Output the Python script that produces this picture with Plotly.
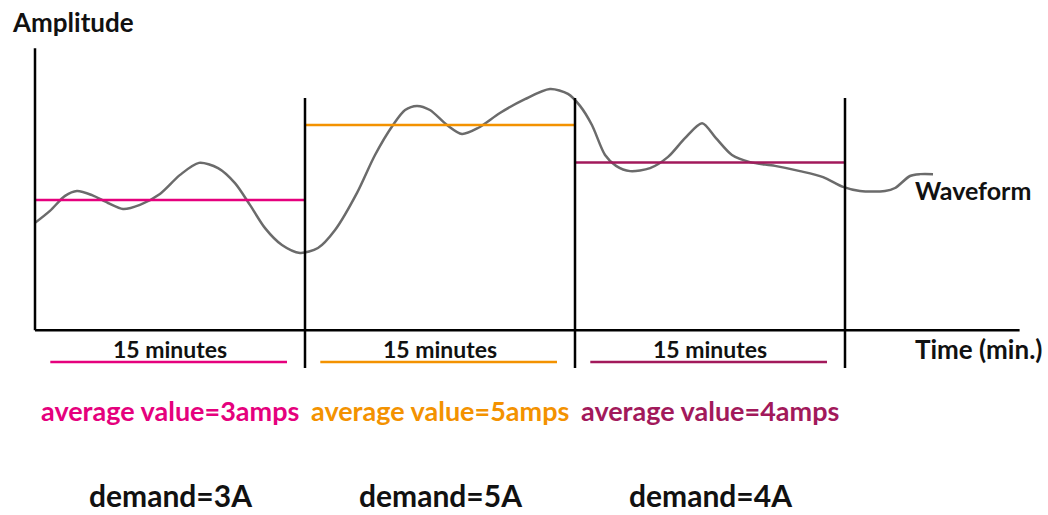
import plotly.graph_objects as go

# waveform: time (minutes) vs amplitude (amps)
wave_t = [0, 0.83, 1.67, 2.33, 3.17, 4.06, 4.89, 5.83, 6.94, 8.06, 9.11, 10.17, 11.11,
          11.94, 12.78, 13.72, 14.72, 15.72, 16.67, 17.89, 18.89, 19.89, 20.56, 21.22,
          21.94, 22.89, 23.72, 24.61, 25.83, 27.22, 28.61, 29.61, 30.28, 30.94, 31.67,
          32.28, 33.06, 34.17, 35.17, 36.11, 37.06, 37.83, 38.72, 39.72, 41.11, 42.50,
          43.78, 44.89, 45.83, 47.22, 47.78, 48.61, 49.17, 49.89]
wave_a = [2.39, 2.71, 3.11, 3.24, 3.13, 2.92, 2.76, 2.87, 3.16, 3.67, 3.99, 3.85, 3.45,
          2.87, 2.25, 1.80, 1.59, 1.72, 2.20, 3.19, 4.20, 5.00, 5.40, 5.51,
          5.40, 5.00, 4.76, 4.92, 5.32, 5.69, 5.96, 5.83, 5.51, 5.00, 4.20,
          3.91, 3.77, 3.85, 4.15, 4.65, 5.05, 4.65, 4.20, 4.01, 3.91, 3.77,
          3.61, 3.35, 3.24, 3.24, 3.32, 3.64, 3.69, 3.69]

boundaries = [0, 15, 30, 45]
averages = [3, 5, 4]
interval_labels = ["15 minutes", "15 minutes", "15 minutes"]
avg_labels = ["average value=3amps", "average value=5amps", "average value=4amps"]
demand_labels = ["demand=3A", "demand=5A", "demand=4A"]
colors = ["#E5007D", "#F39200", "#A2195B"]

W, H = 1048, 515
# pixel mapping: px = 35 + 18*t ; py = 312.5 - 37.5*A
x_range = [-35 / 18, (W - 35) / 18]
y_range = [(312.5 - H) / 37.5, 312.5 / 37.5]

FONT = "Lato"
INK = "#111111"

fig = go.Figure()

# waveform
fig.add_trace(go.Scatter(
    x=wave_t, y=wave_a, mode="lines",
    line=dict(color="#6b6b6b", width=2.5, shape="spline", smoothing=0.8),
    hoverinfo="skip", showlegend=False,
))

# average levels per interval
for i, avg in enumerate(averages):
    fig.add_trace(go.Scatter(
        x=[boundaries[i], boundaries[i + 1]], y=[avg, avg], mode="lines",
        line=dict(color=colors[i], width=2.5),
        hoverinfo="skip", showlegend=False,
    ))

shapes = []
axis_line = dict(color="black", width=2.5)
# axes
shapes.append(dict(type="line", xref="x", yref="y", x0=0, x1=0, y0=-0.47, y1=7.05, line=axis_line))
shapes.append(dict(type="line", xref="x", yref="y", x0=0, x1=54.7, y0=-0.47, y1=-0.47, line=axis_line))
# interval separators
for b in boundaries[1:]:
    shapes.append(dict(type="line", xref="x", yref="y", x0=b, x1=b, y0=-1.48, y1=5.72, line=axis_line))
# coloured underlines below interval labels
for i in range(3):
    shapes.append(dict(type="line", xref="x", yref="y",
                       x0=boundaries[i] + 0.85, x1=boundaries[i + 1] - 1.0,
                       y0=-1.32, y1=-1.32, line=dict(color=colors[i], width=2.5)))

annotations = []
mid = [(boundaries[i] + boundaries[i + 1]) / 2 for i in range(3)]
for i in range(3):
    annotations.append(dict(x=mid[i], y=-0.97, xref="x", yref="y", text=interval_labels[i],
                            yanchor="middle", showarrow=False,
                            font=dict(family=FONT, size=23, color=INK, weight="bold")))
    annotations.append(dict(x=mid[i], y=-2.6, xref="x", yref="y", text=avg_labels[i],
                            yanchor="middle", showarrow=False,
                            font=dict(family=FONT, size=27, color=colors[i], weight="bold")))
    annotations.append(dict(x=mid[i], y=0.0, xref="x", yref="paper", text=demand_labels[i],
                            yanchor="bottom", showarrow=False,
                            font=dict(family=FONT, size=30, color=INK, weight="bold")))

annotations.append(dict(x=10 / W, y=1 - 22 / H, xref="paper", yref="paper", text="Amplitude",
                        xanchor="left", yanchor="middle", showarrow=False,
                        font=dict(family=FONT, size=26, color=INK, weight="bold")))
annotations.append(dict(x=913 / W, y=1 - 190 / H, xref="paper", yref="paper", text="Waveform",
                        xanchor="left", yanchor="middle", showarrow=False,
                        font=dict(family=FONT, size=25, color=INK, weight="bold")))
annotations.append(dict(x=913 / W, y=1 - 349 / H, xref="paper", yref="paper", text="Time (min.)",
                        xanchor="left", yanchor="middle", showarrow=False,
                        font=dict(family=FONT, size=26, color=INK, weight="bold")))

fig.update_layout(
    width=W, height=H,
    margin=dict(l=0, r=0, t=0, b=0),
    paper_bgcolor="white", plot_bgcolor="white",
    xaxis=dict(visible=False, range=x_range, fixedrange=True),
    yaxis=dict(visible=False, range=y_range, fixedrange=True),
    shapes=shapes, annotations=annotations,
    showlegend=False,
)

# the page's default body margin would shift the figure by 8px
fig.write_html("out.html", config=dict(displayModeBar=False),
               post_script="document.body.style.margin='0';")
